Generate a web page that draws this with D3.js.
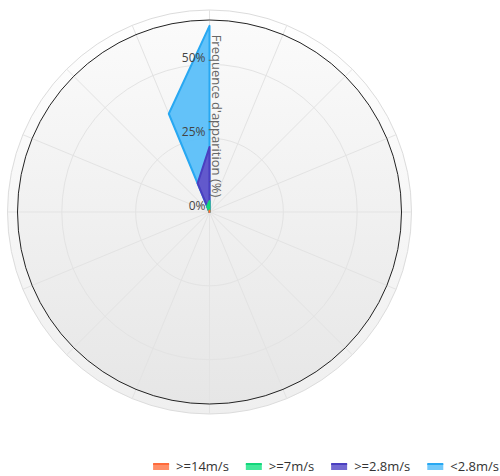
<!DOCTYPE html>
<html>
<head>
<meta charset="utf-8">
<script src="https://cdn.jsdelivr.net/npm/d3@7"></script>
<style>
  body { margin: 0; background: #fff; }
  svg { display: block; font-family: "Open Sans", sans-serif; }
</style>
</head>
<body>
<svg id="chart" width="500" height="476"></svg>
<script>
// wind directions, clockwise from north
const directions = ["N", "NNE", "NE", "ENE", "E", "ESE", "SE", "SSE",
                    "S", "SSW", "SW", "WSW", "W", "WNW", "NW", "NNW"];
const seriesNames = [">=14m/s", ">=7m/s", ">=2.8m/s", "<2.8m/s"];
// frequency (%) per direction for each speed class
const over14 = [0.5, 0, 0, 0, 0, 0, 0, 0, 0, 0, 0, 0, 0, 0, 0, 0.2];
const over7  = [3.2, 0, 0, 0, 0, 0, 0, 0, 0, 0, 0, 0, 0, 0, 0, 1.9];
const over28 = [18.3, 0, 0, 0, 0, 0, 0, 0, 0, 0, 0, 0, 0, 0, 0, 8.4];
const under28 = [41, 0, 0, 0, 0, 0, 0, 0, 0, 0, 0, 0, 0, 0, 0, 25.5];
const yTicks = [0, 25, 50];
const yMax = 65;

const colors = ["#ff7a4c", "#22e48a", "#5a50c9", "#5bbff9"];
const strokes = ["#ff6a3a", "#12d67a", "#4a3fc0", "#28a8f2"];

const svg = d3.select("#chart");
const cx = 209.5, cy = 212, outerR = 202, axisR = 192;

// stacked table
const table = directions.map((d, i) => ({
  dir: d, s0: over14[i], s1: over7[i], s2: over28[i], s3: under28[i]
}));
const stacked = d3.stack().keys(["s0", "s1", "s2", "s3"])(table);

const angle = d3.scaleBand().domain(directions).range([0, 2 * Math.PI]);
const r = d3.scaleLinear().domain([0, yMax]).range([0, axisR]);

const defs = svg.append("defs");
const g1 = defs.append("linearGradient").attr("id", "bgOuter")
  .attr("x1", 0).attr("y1", 0).attr("x2", 0).attr("y2", 1);
g1.append("stop").attr("offset", "0%").attr("stop-color", "#ffffff");
g1.append("stop").attr("offset", "100%").attr("stop-color", "#efefef");
const g2 = defs.append("linearGradient").attr("id", "bgInner")
  .attr("x1", 0).attr("y1", 0).attr("x2", 0).attr("y2", 1);
g2.append("stop").attr("offset", "0%").attr("stop-color", "#fbfbfb");
g2.append("stop").attr("offset", "100%").attr("stop-color", "#e6e6e6");

const plot = svg.append("g").attr("transform", "translate(" + cx + "," + cy + ")");

plot.append("circle").attr("r", outerR)
  .attr("fill", "url(#bgOuter)").attr("stroke", "#dcdcdc").attr("stroke-width", 1);
plot.append("circle").attr("r", axisR)
  .attr("fill", "url(#bgInner)").attr("stroke", "none");

// spokes
plot.selectAll(".spoke").data(directions).enter().append("line")
  .attr("x1", 0).attr("y1", 0)
  .attr("x2", d => outerR * Math.sin(angle(d)))
  .attr("y2", d => -outerR * Math.cos(angle(d)))
  .attr("stroke", "#e3e3e3").attr("stroke-width", 1);

// rings
plot.selectAll(".ring").data(yTicks.filter(t => t > 0)).enter().append("circle")
  .attr("r", d => r(d)).attr("fill", "none")
  .attr("stroke", "#e3e3e3").attr("stroke-width", 1);

plot.append("circle").attr("r", axisR)
  .attr("fill", "none").attr("stroke", "#222").attr("stroke-width", 1);

// areas, top of stack first
const area = d3.areaRadial()
  .angle((d, i) => (i % 16) * 2 * Math.PI / 16)
  .innerRadius(d => r(d[0]))
  .outerRadius(d => r(d[1]));
const line = d3.lineRadial()
  .angle((d, i) => i * 2 * Math.PI / 16)
  .radius(d => r(d[1]))
  .curve(d3.curveLinearClosed);

for (let k = stacked.length - 1; k >= 0; k--) {
  const layer = stacked[k];
  const pts = Array.from(layer);
  pts.push(layer[0]);
  plot.append("path").attr("d", area(pts))
    .attr("fill", colors[k]).attr("fill-opacity", 0.95);
  plot.append("path").attr("d", line(Array.from(layer)))
    .attr("fill", "none").attr("stroke", strokes[k]).attr("stroke-width", 2)
    .attr("stroke-linejoin", "round");
}

// y axis labels
plot.selectAll(".ylab").data(yTicks).enter().append("text")
  .attr("x", -4).attr("y", d => -r(d) - 2)
  .attr("text-anchor", "end")
  .attr("font-size", 12).attr("fill", "#444")
  .text(d => d + "%");

// axis title
svg.append("text")
  .attr("transform", "translate(212,116) rotate(90)")
  .attr("text-anchor", "middle")
  .attr("font-size", 13).attr("fill", "#666")
  .text("Frequence d'apparition (%)");

// legend, right aligned
const legend = svg.append("g");
let items = seriesNames.map((name, i) => {
  const gi = legend.append("g");
  const t = gi.append("text").attr("x", 23).attr("y", 471)
    .attr("font-size", 13).attr("fill", "#333").text(name);
  gi.append("rect").attr("x", 0).attr("y", 464).attr("width", 16).attr("height", 6)
    .attr("fill", colors[i]).attr("fill-opacity", 0.85);
  gi.append("line").attr("x1", 0).attr("x2", 16).attr("y1", 464).attr("y2", 464)
    .attr("stroke", strokes[i]).attr("stroke-width", 2);
  return { g: gi, w: 23 + t.node().getComputedTextLength() };
});
let x = 499 - d3.sum(items, d => d.w) - 17 * (items.length - 1);
items.forEach(it => {
  it.g.attr("transform", "translate(" + x + ",0)");
  x += it.w + 17;
});
</script>
</body>
</html>
